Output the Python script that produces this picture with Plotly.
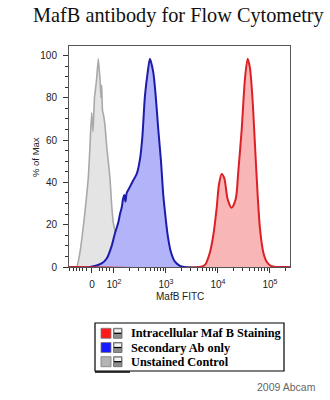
import plotly.graph_objects as go

# Fluorescence positions are in logicle display units (2 -> 10^2, 3 -> 10^3, ...)
x_min, x_max = 1.135, 5.385

unstained_x = [1.135, 1.283, 1.346, 1.442, 1.506, 1.538, 1.571, 1.596, 1.625, 1.663, 1.698, 1.717,
               1.731, 1.750, 1.763, 1.779, 1.798, 1.827, 1.860, 1.890, 1.923, 1.956, 1.987,
               2.019, 2.052, 2.087, 2.115, 2.179]
unstained_y = [0, 0, 7, 26, 42, 57, 73, 64, 80, 88, 98.5, 93,
               89, 80, 86, 74, 72, 67, 57, 50, 42, 29, 21,
               17, 10, 5, 2.5, 0]

secondary_x = [1.135, 1.538, 1.763, 1.860, 1.956, 2.019, 2.083, 2.115, 2.148, 2.173, 2.198, 2.221,
               2.244, 2.308, 2.371, 2.437, 2.500, 2.544, 2.596, 2.648, 2.692, 2.756, 2.802,
               2.852, 2.904, 2.948, 2.981, 3.033, 3.096, 3.173, 3.269, 3.346, 5.385]
secondary_y = [0, 0, 1.7, 4, 10, 16, 21, 25, 28, 32, 34, 31,
               35, 38, 41, 44, 51, 61, 81, 92, 98.5, 92, 81,
               65, 50, 34, 26, 15, 7, 2.5, 0.5, 0, 0]

mafb_x = [1.135, 3.654, 3.750, 3.846, 3.910, 3.975, 4.019, 4.071, 4.121, 4.187, 4.263, 4.340,
          4.390, 4.456, 4.519, 4.571, 4.615, 4.660, 4.712, 4.763, 4.808, 4.871, 4.937,
          5.019, 5.115, 5.385]
mafb_y = [0, 0, 1, 7, 15, 28, 39, 44, 42, 32, 28, 32,
          45, 65, 89, 98.5, 94, 81, 57.5, 34, 18, 7, 2.5,
          0.5, 0, 0]

tick_pos = [1.577, 2, 3, 4, 5]
tick_text = ["0", "10<sup>2</sup>", "10<sup>3</sup>", "10<sup>4</sup>", "10<sup>5</sup>"]

# minor ticks: linear zone around zero plus log decades
minor_pos = [1.154, 1.212, 1.288, 1.346, 1.404, 1.481, 1.731, 1.788, 1.865, 1.923,
             2.301, 2.477, 2.602, 2.699, 2.778, 2.845, 2.903, 2.954,
             3.301, 3.477, 3.602, 3.699, 3.778, 3.845, 3.903, 3.954,
             4.301, 4.477, 4.602, 4.699, 4.778, 4.845, 4.903, 4.954, 5.301]

legend_labels = ["Intracellular Maf B Staining", "Secondary Ab only", "Unstained Control"]
legend_colors = ["#ff1a1a", "#1a1aff", "#b4b4b4"]

W, H = 330, 400
L, R, T, B = 69, 290, 46, 267


def px(x):
    return (x - L) / (R - L)


def py(y):
    return (B - y) / (B - T)


fig = go.Figure()
fig.add_trace(go.Scatter(x=unstained_x, y=unstained_y, mode="lines", fill="tozeroy",
                         fillcolor="#e4e4e4",
                         line=dict(color="#a9a9a9", width=1.6, shape="spline", smoothing=0.4)))
fig.add_trace(go.Scatter(x=secondary_x, y=secondary_y, mode="lines", fill="tozeroy",
                         fillcolor="#b3b3fa",
                         line=dict(color="#1c1caa", width=2, shape="spline", smoothing=0.7)))
fig.add_trace(go.Scatter(x=mafb_x, y=mafb_y, mode="lines", fill="tozeroy",
                         fillcolor="#f9b6b6",
                         line=dict(color="#dd2026", width=2, shape="spline", smoothing=0.8)))

shapes = []
annotations = []

# legend box drawn by hand
shapes.append(dict(type="rect", xref="paper", yref="paper",
                   x0=px(95), x1=px(284), y0=py(323), y1=py(371),
                   line=dict(color="#000", width=1.2), fillcolor="white"))
shapes.append(dict(type="line", xref="paper", yref="paper",
                   x0=px(95), x1=px(130), y0=py(372), y1=py(372),
                   line=dict(color="#000", width=1.5)))
for i, (lab, col) in enumerate(zip(legend_labels, legend_colors)):
    cy = 333.3 + i * 14.2
    shapes.append(dict(type="rect", xref="paper", yref="paper",
                       x0=px(101), x1=px(111), y0=py(cy - 5), y1=py(cy + 5),
                       line=dict(color="#777", width=0.8), fillcolor=col))
    shapes.append(dict(type="rect", xref="paper", yref="paper",
                       x0=px(113.5), x1=px(122), y0=py(cy - 5), y1=py(cy + 5),
                       line=dict(color="#666", width=0.8), fillcolor="#8c8c8c"))
    shapes.append(dict(type="rect", xref="paper", yref="paper",
                       x0=px(114.5), x1=px(121), y0=py(cy - 4), y1=py(cy - 0.5),
                       line=dict(width=0), fillcolor="#f2f2f2"))
    shapes.append(dict(type="line", xref="paper", yref="paper",
                       x0=px(114), x1=px(121.5), y0=py(cy), y1=py(cy),
                       line=dict(color="#000", width=1.2)))
    annotations.append(dict(xref="paper", yref="paper", x=px(129), y=py(cy),
                            xanchor="left", yanchor="middle", showarrow=False,
                            text="<b>" + lab + "</b>",
                            font=dict(family="Liberation Serif", size=12.3, color="#000")))

annotations.append(dict(xref="paper", yref="paper", x=px(179), y=py(15),
                        xanchor="center", yanchor="middle", showarrow=False,
                        text="MafB antibody for Flow Cytometry",
                        font=dict(family="Liberation Serif", size=20.3, color="#111")))
annotations.append(dict(xref="paper", yref="paper", x=px(35), y=py(157),
                        xanchor="center", yanchor="middle", showarrow=False, textangle=-90,
                        text="% of Max",
                        font=dict(family="Liberation Sans", size=9.5, color="#222")))
annotations.append(dict(xref="paper", yref="paper", x=px(179.5), y=py(296.5),
                        xanchor="center", yanchor="middle", showarrow=False,
                        text="MafB FITC",
                        font=dict(family="Liberation Sans", size=10, color="#222")))
annotations.append(dict(xref="paper", yref="paper", x=px(318), y=py(387),
                        xanchor="right", yanchor="middle", showarrow=False,
                        text="2009 Abcam",
                        font=dict(family="Liberation Sans", size=10.5, color="#666")))

fig.update_layout(
    width=W, height=H,
    margin=dict(l=L, r=W - R, t=T, b=H - B, pad=0),
    paper_bgcolor="white", plot_bgcolor="white",
    showlegend=False,
    shapes=shapes, annotations=annotations,
    xaxis=dict(range=[x_min, x_max], tickmode="array", tickvals=tick_pos, ticktext=tick_text,
               ticks="outside", ticklen=5, tickwidth=1, tickcolor="#333",
               showline=True, linecolor="#555", linewidth=1, mirror=True,
               showgrid=False, zeroline=False, ticklabelstandoff=3,
               tickfont=dict(family="Liberation Sans", size=10, color="#222"),
               minor=dict(tickmode="array", tickvals=minor_pos, ticks="outside",
                          ticklen=3, tickcolor="#333", showgrid=False)),
    yaxis=dict(range=[0, 104.5], tickmode="array", tickvals=[0, 20, 40, 60, 80, 100],
               ticks="outside", ticklen=5, tickwidth=1, tickcolor="#333",
               showline=True, linecolor="#555", linewidth=1, mirror=True,
               showgrid=False, zeroline=False, ticklabelstandoff=4,
               tickfont=dict(family="Liberation Sans", size=10, color="#222"),
               minor=dict(dtick=5, ticks="outside", ticklen=3, tickcolor="#333",
                          showgrid=False)),
)

fig.write_html("out.html")
